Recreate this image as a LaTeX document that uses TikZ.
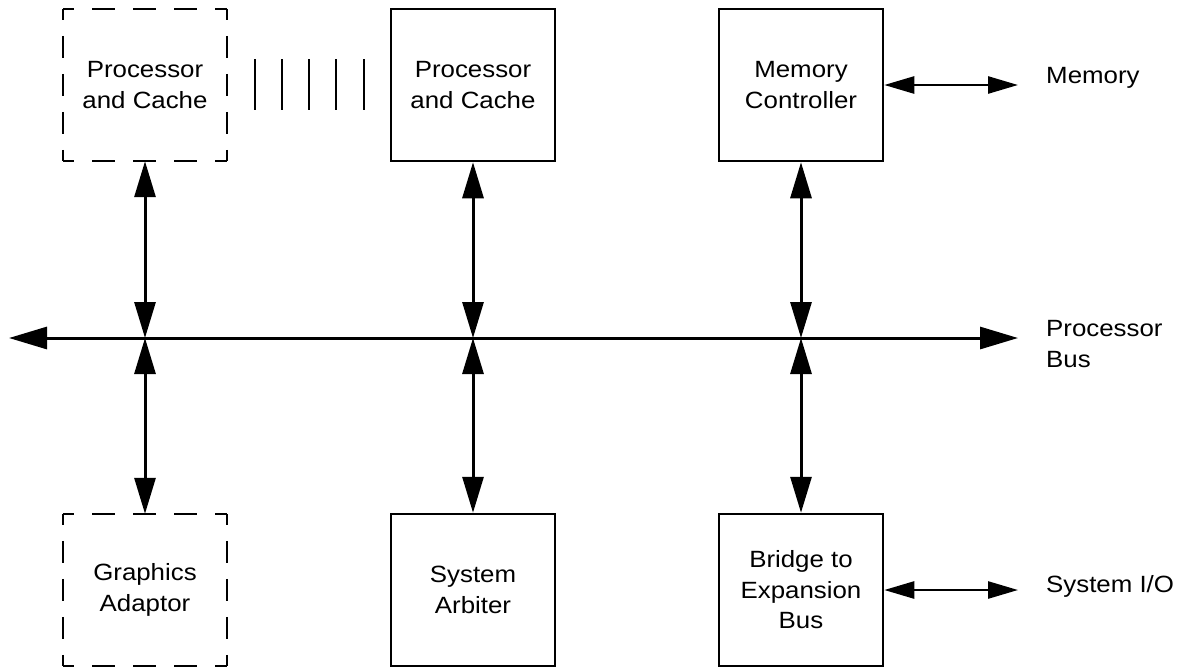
\documentclass[tikz,border=0pt]{standalone}
\usepackage{fontspec}
\setmainfont{Liberation Sans}[FakeStretch=1.1]
\usetikzlibrary{arrows.meta}
\begin{document}
\begin{tikzpicture}[x=1pt,y=-1pt,
  every node/.style={font=\fontsize{23.5}{30.5}\selectfont, align=center, inner sep=0pt},
  unitbox/.style={minimum width=164pt, minimum height=152pt},
  solidbox/.style={unitbox, draw, line width=2.5pt},
  hdash/.style={line width=2.5pt, dash pattern=on 23pt off 18pt, dash phase=11.5pt},
  vdash/.style={line width=2.5pt, dash pattern=on 22pt off 16pt, dash phase=11pt},
  link/.style={line width=3pt, {Triangle[length=36pt,width=21pt]}-{Triangle[length=36pt,width=21pt]}},
  buslink/.style={line width=3pt, {Triangle[length=38pt,width=22pt]}-{Triangle[length=38pt,width=22pt]}},
  sidelink/.style={line width=2.6pt, {Triangle[length=30pt,width=17pt]}-{Triangle[length=30pt,width=17pt]}},
  label/.style={anchor=west, align=left}
]
\useasboundingbox (0,0) rectangle (1182,667);

% top row
\node[unitbox] (pc1) at (145,85) {Processor\\and Cache};
\node[solidbox] (pc2) at (473,85) {Processor\\and Cache};
\node[solidbox] (mc) at (801,85) {Memory\\Controller};
% bottom row
\node[unitbox] (ga) at (145,590) {Graphics\\Adaptor};
\node[solidbox] (sa) at (473,590) {System\\Arbiter};
\node[solidbox] (br) at (801,590) {Bridge to\\Expansion\\Bus};

% dashed outlines
\foreach \b in {pc1,ga}{
  \draw[hdash] (\b.north west) -- (\b.north east);
  \draw[vdash] (\b.north east) -- (\b.south east);
  \draw[hdash] (\b.south west) -- (\b.south east);
  \draw[vdash] (\b.north west) -- (\b.south west);
}

% ellipsis bars between processors
\foreach \x in {255,282,309,336,364}{
  \draw[line width=2.3pt] (\x,59) -- (\x,110);
}

% bus
\coordinate (busL) at (9,338);
\coordinate (busR) at (1018,338);
\coordinate (j1) at (145,338);
\coordinate (j2) at (473,338);
\coordinate (j3) at (801,338);
\draw[buslink] (busL) -- (busR);

\draw[link] (pc1.south) -- (j1);
\draw[link] (pc2.south) -- (j2);
\draw[link] (mc.south) -- (j3);
\draw[link] (j1) -- (ga.north);
\draw[link] (j2) -- (sa.north);
\draw[link] (j3) -- (br.north);

% side connections
\coordinate (memend) at (1018,85);
\coordinate (ioend) at (1018,590);
\draw[sidelink] (mc.east) -- (memend);
\draw[sidelink] (br.east) -- (ioend);

% labels
\node[anchor=base west] (memlbl) at (1046,83) {Memory};
\node[anchor=base west] (iolbl) at (1046,592) {System I/O};
\node[label] (buslbl) at (1046,344) {Processor\\Bus};
\end{tikzpicture}
\end{document}
